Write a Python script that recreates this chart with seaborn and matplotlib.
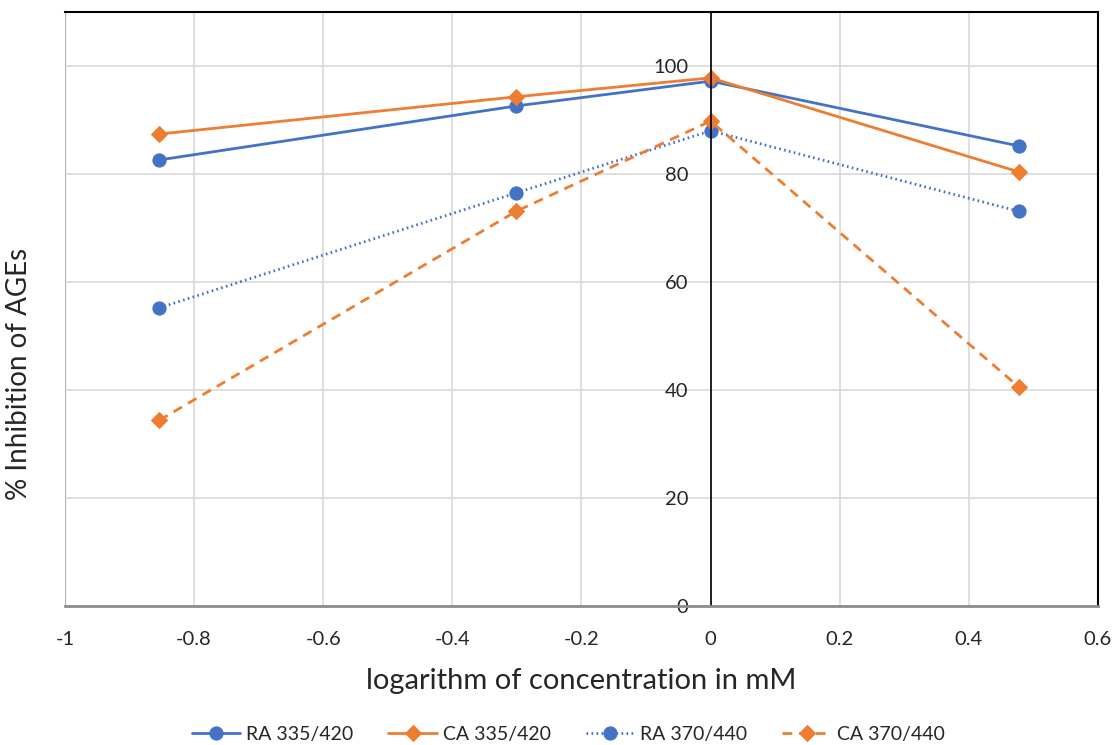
import pandas as pd
import matplotlib.pyplot as plt
import seaborn as sns

# log10 of concentrations 0.14, 0.5, 1, 3 mM
log_conc = [-0.854, -0.301, 0.0, 0.477]

ra_335 = [82.6, 92.6, 97.2, 85.2]
ca_335 = [87.4, 94.3, 97.8, 80.4]
ra_370 = [55.2, 76.5, 88.0, 73.1]
ca_370 = [34.4, 73.1, 89.8, 40.6]

labels = ["RA 335/420", "CA 335/420", "RA 370/440", "CA 370/440"]
x_ticks = [-1, -0.8, -0.6, -0.4, -0.2, 0, 0.2, 0.4, 0.6]
x_ticklabels = ["-1", "-0.8", "-0.6", "-0.4", "-0.2", "0", "0.2", "0.4", "0.6"]
y_ticks = [0, 20, 40, 60, 80, 100]

sns.set_style("white")
plt.rcParams['font.family'] = ['Lato', 'DejaVu Sans']

blue = "#4472C4"
orange = "#ED7D31"

fig = plt.figure(figsize=(11.13, 7.45), dpi=100)
ax = fig.add_axes([0.0584, 0.1866, 0.9281, 0.7973])

series = [
    (ra_335, blue, "o", "-", 9.5),
    (ca_335, orange, "D", "-", 8.5),
    (ra_370, blue, "o", (0, (0.6, 1.2)), 9.5),
    (ca_370, orange, "D", (0, (3.5, 2.5)), 8.5),
]
for (vals, col, mk, ls, ms), lab in zip(series, labels):
    sns.lineplot(x=log_conc, y=vals, ax=ax, color=col, marker=mk,
                 linestyle=ls, linewidth=2, markersize=ms,
                 markeredgecolor=col, label=lab)

ax.set_xlim(-1, 0.6)
ax.set_ylim(0, 110)
ax.set_xticks(x_ticks)
ax.set_xticklabels(x_ticklabels)
ax.set_yticks(y_ticks)
ax.grid(True, color="#D9D9D9", linewidth=1.2)
ax.set_axisbelow(True)

# y axis crosses at x = 0, frame kept around the plot area
ax.spines['left'].set_position(('data', 0))
ax.spines['left'].set_color("black")
ax.spines['left'].set_linewidth(1.2)
for s in ['top', 'right']:
    ax.spines[s].set_color("black")
    ax.spines[s].set_linewidth(1.5)
ax.spines['bottom'].set_color("#8C8C8C")
ax.spines['bottom'].set_linewidth(2)
ax.axvline(-1, color="black", linewidth=1.5, zorder=0.5)

ax.tick_params(axis='both', length=0, labelsize=14.5)
ax.tick_params(axis='x', pad=18)
ax.tick_params(axis='y', pad=16)

ax.set_xlabel("logarithm of concentration in mM", fontsize=21)
ax.xaxis.set_label_coords(0.5, -0.105)
ax.set_ylabel("% Inhibition of AGEs", fontsize=20)
ax.yaxis.set_label_coords(-0.032, 0.39)

ax.legend(loc="upper center", bbox_to_anchor=(0.487, -0.172), ncol=4,
          frameon=False, fontsize=14, handlelength=2.5, columnspacing=1.8,
          handletextpad=0.3)

fig.savefig("out.png", dpi=100)
